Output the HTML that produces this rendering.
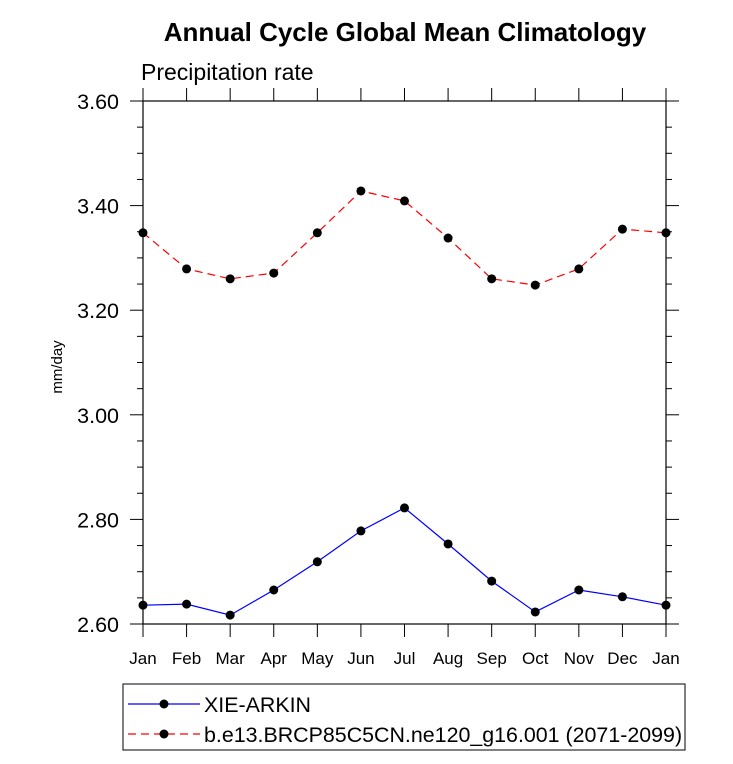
<!DOCTYPE html>
<html><head><meta charset="utf-8"><style>
body{margin:0;background:#fff;}
svg{font-family:"Liberation Sans",Arial,sans-serif;}
</style></head><body>
<svg id="chart" width="733" height="759" xmlns="http://www.w3.org/2000/svg">
<text x="405" y="41" text-anchor="middle" font-size="26" font-weight="bold">Annual Cycle Global Mean Climatology</text>
<text x="141" y="80" font-size="23">Precipitation rate</text>
<text transform="translate(62,367) rotate(-90)" text-anchor="middle" font-size="15">mm/day</text>
<g id="axes"></g>
<g id="series"></g>
<g>
<rect x="123" y="684" width="562" height="66" fill="none" stroke="#000" stroke-width="1"/>
<g>
<line x1="128" y1="704" x2="200" y2="704" stroke="#0000ff" stroke-width="1.2"/>
<circle cx="164" cy="704" r="4.5" fill="#000"/>
<text x="204" y="712" font-size="21.4">XIE-ARKIN</text>
</g>
<g>
<line x1="128" y1="734" x2="200" y2="734" stroke="#ff0000" stroke-width="1.2" stroke-dasharray="8,5"/>
<circle cx="164" cy="734" r="4.5" fill="#000"/>
<text x="204" y="742" font-size="21.4">b.e13.BRCP85C5CN.ne120_g16.001 (2071-2099)</text>
</g>
</g>
</svg>
<script>
const months = ["Jan","Feb","Mar","Apr","May","Jun","Jul","Aug","Sep","Oct","Nov","Dec","Jan"];
const obsValues = [2.636,2.638,2.617,2.665,2.719,2.778,2.822,2.753,2.682,2.623,2.665,2.652,2.636];
const modelValues = [3.348,3.279,3.260,3.271,3.348,3.428,3.409,3.338,3.260,3.248,3.279,3.355,3.348];
const yTicks = [2.60,2.80,3.00,3.20,3.40,3.60];
const yTickLabels = ["2.60","2.80","3.00","3.20","3.40","3.60"];

const NS="http://www.w3.org/2000/svg";
const L=143,R=666,T=101,B=624,yMin=2.6,yMax=3.6;
const xS=i=>L+(R-L)*i/(months.length-1);
const yS=v=>B-(v-yMin)/(yMax-yMin)*(B-T);
function mk(tag,attrs,parent){const e=document.createElementNS(NS,tag);for(const k in attrs)e.setAttribute(k,attrs[k]);parent.appendChild(e);return e;}
const ax=document.getElementById('axes'), se=document.getElementById('series');
const frame=mk('rect',{x:L,y:T,width:R-L,height:B-T,fill:'none',stroke:'#000','stroke-width':1.2},ax);


for(let v=yMin;v<=yMax+1e-9;v+=0.05){
  const y=yS(v);const major=Math.abs(Math.round(v*5)-v*5)<1e-6;const len=major?13:6;
  mk('line',{x1:L-len,y1:y,x2:L,y2:y,stroke:'#000','stroke-width':1},ax);
  mk('line',{x1:R,y1:y,x2:R+len,y2:y,stroke:'#000','stroke-width':1},ax);
}
yTicks.forEach((v,i)=>{
  const t=mk('text',{x:L-24,y:yS(v)+8,'text-anchor':'end','font-size':21.5},ax);
  t.textContent=yTickLabels[i];
  
  
});
months.forEach((m,i)=>{
  const x=xS(i);
  mk('line',{x1:x,y1:B,x2:x,y2:B+13,stroke:'#000','stroke-width':1},ax);
  mk('line',{x1:x,y1:T-13,x2:x,y2:T,stroke:'#000','stroke-width':1},ax);
  const t=mk('text',{x:x,y:B+40,'text-anchor':'middle','font-size':17},ax);
  t.textContent=m;
  
  
});
function drawSeries(vals,color,dash,name){
  const pts=vals.map((v,i)=>xS(i)+','+yS(v)).join(' ');
  const pl=mk('polyline',{points:pts,fill:'none',stroke:color,'stroke-width':1.2},se);
  if(dash)pl.setAttribute('stroke-dasharray',dash);
  
  
  vals.forEach((v,i)=>{
    const c=mk('circle',{cx:xS(i),cy:yS(v),r:4.5,fill:'#000'},se);
    
    
  });
}
drawSeries(obsValues,'#0000ff',null,'xie-arkin');
drawSeries(modelValues,'#ff0000','8,5','model');
</script>
</body></html>
